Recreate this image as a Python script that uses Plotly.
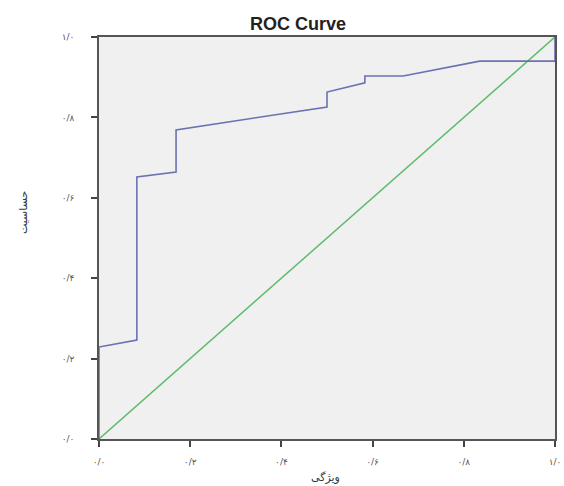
import plotly.graph_objects as go

# ROC curve data (1 - specificity vs sensitivity)
fpr = [0.0, 0.0, 0.083, 0.083, 0.169, 0.169, 0.50, 0.50, 0.583, 0.583, 0.667, 0.835, 1.0, 1.0]
tpr = [0.0, 0.229, 0.246, 0.652, 0.664, 0.769, 0.826, 0.863, 0.886, 0.903, 0.903, 0.940, 0.940, 1.0]

ref_x = [0.0, 1.0]
ref_y = [0.0, 1.0]

tick_vals = [0.0, 0.2, 0.4, 0.6, 0.8, 1.0]
tick_text = ["۰/۰", "۰/۲", "۰/۴", "۰/۶", "۰/۸", "۱/۰"]

title_text = "ROC Curve"
x_title = "ویژگی"
y_title = "حساسیت"

fig = go.Figure()
fig.add_trace(go.Scatter(x=ref_x, y=ref_y, mode="lines",
                         line=dict(color="#5dbb6a", width=1.5), hoverinfo="skip"))
fig.add_trace(go.Scatter(x=fpr, y=tpr, mode="lines",
                         line=dict(color="#6a72b2", width=1.6)))

axis_common = dict(
    range=[0, 1], tickvals=tick_vals, ticktext=tick_text,
    showgrid=False, zeroline=False, showline=True, mirror=True,
    linecolor="#555555", linewidth=1.5, ticks="outside", ticklen=6,
    tickcolor="#444444", tickwidth=1.5, automargin=False,
    tickfont=dict(family="DejaVu Sans", size=9, color="#555555"),
)

fig.update_xaxes(**axis_common, ticklabelstandoff=7)
fig.update_yaxes(**axis_common, ticklabelstandoff=15)

L, R, T, B = 99, 9, 37, 47
PW = 564 - L - R
fig.update_layout(
    width=564, height=486,
    margin=dict(l=L, r=R, t=T, b=B, autoexpand=False),
    paper_bgcolor="white", plot_bgcolor="#f0f0f0",
    showlegend=False,
    annotations=[
        dict(text="<b>" + title_text + "</b>", x=(298 - L) / PW, xref="paper",
             y=1, yref="paper",
             showarrow=False, font=dict(family="Liberation Sans", size=18, color="#222222"),
             yanchor="middle", yshift=13, xanchor="center"),
        dict(text=x_title, x=(325 - L) / PW, xref="paper", y=0, yref="paper",
             showarrow=False, font=dict(family="DejaVu Sans", size=11, color="#333333"),
             yanchor="middle", yshift=-38),
        dict(text=y_title, x=(23 - L) / PW, xref="paper", y=(439 - 213) / (486 - T - B),
             yref="paper",
             showarrow=False, font=dict(family="DejaVu Sans", size=11, color="#333333"),
             textangle=-90, xanchor="center", yanchor="middle"),
    ],
)

fig.write_html("out.html", config={"displayModeBar": False},
               post_script="document.body.style.margin='0';")
